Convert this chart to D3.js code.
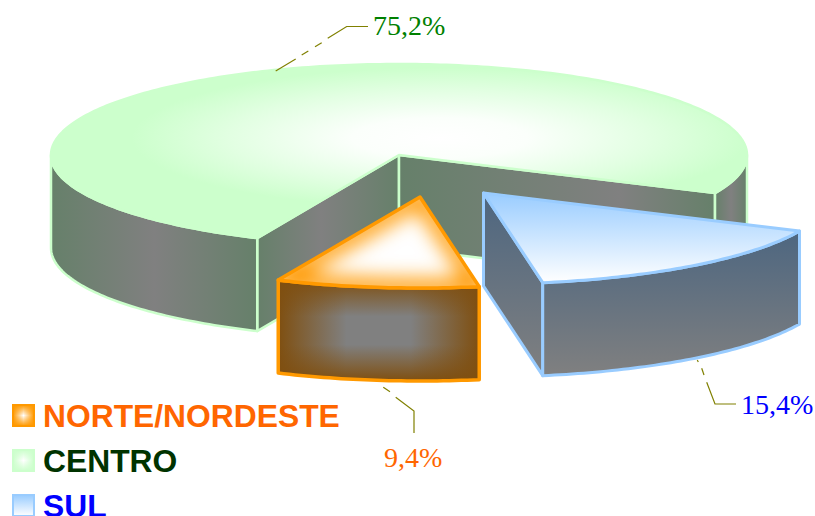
<!DOCTYPE html>
<html>
<head>
<meta charset="utf-8">
<script src="https://cdn.jsdelivr.net/npm/d3@7/dist/d3.min.js"></script>
<style>
html,body{margin:0;padding:0;background:#fff;overflow:hidden}
svg{display:block}
</style>
</head>
<body>
<svg id="chart" width="815" height="516"></svg>
<script>
// Regional shares, in legend order
const categories = ["NORTE/NORDESTE", "CENTRO", "SUL"];
const shares = [9.4, 75.2, 15.4];
const shareLabels = ["9,4%", "75,2%", "15,4%"];
const labelColors = ["#ff6600", "#008000", "#0000ff"];
const legendColors = ["#ff6600", "#003300", "#0000ff"];

const cx = 399, cy = 155, rx = 348, ry = 91, depth = 93;
const explode = [[21, 42], [0, 0], [84.5, 38]];
const edgeColors = ["#ff9900", "#ccffcc", "#99ccff"];
const edgeWidths = [3.5, 2.5, 3];

const svg = d3.select("#chart");
const defs = svg.append("defs");

// Oblique pie: d3.pie supplies the sweep, the projection squashes it into an ellipse
const arcs = d3.pie().sort(null).value(d => d)
  .startAngle((80.2 + 90) * Math.PI / 180)
  .endAngle((80.2 + 90 + 360) * Math.PI / 180)(shares);

const px = d3.scaleLinear().domain([-1, 1]).range([cx - rx, cx + rx]);
const py = d3.scaleLinear().domain([-1, 1]).range([cy - ry, cy + ry]);
const toScreen = a => a - Math.PI / 2;
const DEG = Math.PI / 180;

function rimPoints(a0, a1) {
  const n = Math.max(2, Math.ceil(Math.abs(a1 - a0) / DEG));
  return d3.range(n + 1).map(i => {
    const a = toScreen(a0 + (a1 - a0) * i / n);
    return [px(Math.cos(a)), py(Math.sin(a))];
  });
}
const line = d3.line();
const centre = [px(0), py(0)];
const shift = (pts, dx, dy) => pts.map(p => [p[0] + dx, p[1] + dy]);

function linearGrad(id, x1, y1, x2, y2, stops) {
  const g = defs.append("linearGradient").attr("id", id)
    .attr("gradientUnits", "userSpaceOnUse")
    .attr("x1", x1).attr("y1", y1).attr("x2", x2).attr("y2", y2);
  stops.forEach(s => g.append("stop").attr("offset", s[0]).attr("stop-color", s[1]).attr("stop-opacity", s[2] === undefined ? 1 : s[2]));
}
function bandGrad(id, x1, x2, mid = 0.5) {
  linearGrad(id, x1, 0, x2, 0, [[0, "#66806a"], [mid, "#808080"], [1, "#66806a"]]);
}

// Centro: top disc with a pale core
const topGrad = defs.append("radialGradient").attr("id", "centroTop")
  .attr("gradientUnits", "userSpaceOnUse")
  .attr("cx", 0).attr("cy", 0).attr("r", 1)
  .attr("gradientTransform", "translate(440,138) scale(350,80)");
[[0, "#ffffff"], [0.25, "#fbfffb"], [0.6, "#e2ffe2"], [0.88, "#ccffcc"], [1, "#ccffcc"]]
  .forEach(s => topGrad.append("stop").attr("offset", s[0]).attr("stop-color", s[1]));

function drawFace(g, pts, fill, stroke, width) {
  g.append("path").attr("d", line(pts) + "Z").attr("fill", fill)
    .attr("stroke", stroke).attr("stroke-width", width).attr("stroke-linejoin", "round");
}
function sideOf(pts) {
  return pts.concat(shift(pts, 0, depth).reverse());
}

// --- Centro ---
{
  const a = arcs[1], g = svg.append("g");
  const s = edgeColors[1], w = edgeWidths[1];
  const rim = rimPoints(a.startAngle, a.endAngle);
  const first = rim[0], last = rim[rim.length - 1];

  bandGrad("wallA", first[0], centre[0], 0.45);
  bandGrad("wallB", centre[0], last[0], 0.7);
  bandGrad("outerL", cx - rx, first[0]);
  bandGrad("outerR", last[0], cx + rx);

  drawFace(g, sideOf([first, centre]), "url(#wallA)", s, w);
  drawFace(g, sideOf([centre, last]), "url(#wallB)", s, w);
  drawFace(g, sideOf(rimPoints(a.startAngle, 270 * DEG)), "url(#outerL)", s, w);
  drawFace(g, sideOf(rimPoints(450 * DEG, a.endAngle)), "url(#outerR)", s, w);
  drawFace(g, rim.concat([centre]), "url(#centroTop)", s, w);
}

// --- Sul ---
{
  const a = arcs[2], g = svg.append("g");
  const [dx, dy] = explode[2];
  const s = edgeColors[2], w = edgeWidths[2];
  const rim = shift(rimPoints(a.startAngle, a.endAngle), dx, dy);
  const apex = [centre[0] + dx, centre[1] + dy];
  const near = rim[rim.length - 1];

  linearGrad("sulWall", 0, apex[1], 0, near[1] + depth, [[0, "#4d6680"], [1, "#808080"]]);
  linearGrad("sulFront", 0, rim[0][1], 0, near[1] + depth, [[0, "#4d6680"], [1, "#808080"]]);
  linearGrad("sulTop", 0, apex[1], 0, near[1], [[0, "#99ccff"], [1, "#ffffff"]]);

  drawFace(g, sideOf([apex, near]), "url(#sulWall)", s, w);
  drawFace(g, sideOf(rim), "url(#sulFront)", s, w);
  drawFace(g, rim.concat([apex]), "url(#sulTop)", s, w);
}

// --- Norte/Nordeste ---
{
  const a = arcs[0], g = svg.append("g");
  const [dx, dy] = explode[0];
  const s = edgeColors[0], w = edgeWidths[0];
  const rim = shift(rimPoints(a.startAngle, a.endAngle), dx, dy);
  const apex = [centre[0] + dx, centre[1] + dy];
  const xs = d3.extent(rim, p => p[0]);
  const ys = d3.extent(rim, p => p[1]);
  const side = sideOf(rim);

  // Framed shading on the front: grey core darkening to brown on all four sides
  const brown = "#7f4f10";
  linearGrad("norteH", xs[0], 0, xs[1], 0, [[0, brown, 1], [0.34, brown, 0], [0.66, brown, 0], [1, brown, 1]]);
  linearGrad("norteV", 0, ys[0], 0, ys[1] + depth, [[0, brown, 1], [0.36, brown, 0], [0.64, brown, 0], [1, brown, 1]]);
  g.append("path").attr("d", line(side) + "Z").attr("fill", "#808080");
  g.append("path").attr("d", line(side) + "Z").attr("fill", "url(#norteH)");
  g.append("path").attr("d", line(side) + "Z").attr("fill", "url(#norteV)");
  g.append("path").attr("d", line(side) + "Z").attr("fill", "none")
    .attr("stroke", s).attr("stroke-width", w).attr("stroke-linejoin", "round");

  // Top: white core fading out to the orange outline
  const clip = defs.append("clipPath").attr("id", "norteClip");
  const topD = line(rim.concat([apex])) + "Z";
  clip.append("path").attr("d", topD);
  const blur = defs.append("filter").attr("id", "norteGlow")
    .attr("x", "-30%").attr("y", "-30%").attr("width", "160%").attr("height", "160%");
  blur.append("feGaussianBlur").attr("stdDeviation", 10);
  g.append("path").attr("d", topD).attr("fill", "#ffffff");
  g.append("g").attr("clip-path", "url(#norteClip)")
    .append("path").attr("d", topD).attr("fill", "none")
    .attr("stroke", s).attr("stroke-width", 18).attr("stroke-linejoin", "round")
    .attr("filter", "url(#norteGlow)");
  g.append("path").attr("d", topD).attr("fill", "none")
    .attr("stroke", s).attr("stroke-width", w).attr("stroke-linejoin", "round");
}

// --- Leader lines ---
const leaderRuns = [
  [[[275.7, 71], [295.7, 59]], [[301.7, 55], [308.3, 51]], [[315, 46.7], [321.7, 42.7]], [[327.7, 38.3], [346.7, 26.5], [368, 26.5]]],
  [[[383.3, 387.3], [390, 391.7]], [[395.7, 397.3], [414, 411], [414, 433]]],
  [[[697.3, 360], [698.3, 362]], [[701.7, 368.3], [704, 375]], [[706.7, 382.3], [715, 404], [736, 404]]]
];
const leaders = svg.append("g").attr("fill", "none").attr("stroke", "#808000").attr("stroke-width", 1.2);
leaderRuns.forEach(run => run.forEach(seg => leaders.append("path").attr("d", line(seg))));

// --- Value labels ---
const labelAnchors = [[384, 467], [373, 35], [741, 414]];
svg.append("g").selectAll("text").data(shareLabels).join("text")
  .attr("x", (d, i) => labelAnchors[i][0])
  .attr("y", (d, i) => labelAnchors[i][1])
  .attr("fill", (d, i) => labelColors[i])
  .attr("font-family", "'Liberation Serif', serif")
  .attr("font-size", 28)
  .text(d => d);

// --- Legend ---
const legendY = d3.scalePoint().domain(categories).range([404, 494]);

// Square swatch shading: pale middle, edge colour at the border
function swatchGrad(id, vertical, color) {
  const g = defs.append("linearGradient").attr("id", id)
    .attr("x1", 0).attr("y1", 0).attr("x2", vertical ? 0 : 1).attr("y2", vertical ? 1 : 0);
  [[0, 1], [0.5, 0], [1, 1]].forEach(s =>
    g.append("stop").attr("offset", s[0]).attr("stop-color", color).attr("stop-opacity", s[1]));
}
[0, 1].forEach(i => {
  swatchGrad(`swatchH${i}`, false, edgeColors[i]);
  swatchGrad(`swatchV${i}`, true, edgeColors[i]);
});
const lg = defs.append("linearGradient").attr("id", "legendS").attr("x1", 0).attr("y1", 0).attr("x2", 0).attr("y2", 1);
lg.append("stop").attr("offset", 0).attr("stop-color", "#99ccff");
lg.append("stop").attr("offset", 1).attr("stop-color", "#ffffff");

const legend = svg.append("g").selectAll("g").data(categories).join("g")
  .attr("transform", d => `translate(0,${legendY(d)})`);
legend.each(function (d, i) {
  const g = d3.select(this);
  const addRect = () => g.append("rect").attr("x", 13).attr("y", 1).attr("width", 21).attr("height", 21);
  if (i === 2) {
    addRect().attr("fill", "url(#legendS)");
  } else {
    addRect().attr("fill", "#ffffff");
    addRect().attr("fill", `url(#swatchH${i})`);
    addRect().attr("fill", `url(#swatchV${i})`);
  }
  addRect().attr("fill", "none").attr("stroke", edgeColors[i]).attr("stroke-width", 2);
});
legend.append("text")
  .attr("x", 43).attr("y", 22.5)
  .attr("fill", (d, i) => legendColors[i])
  .attr("font-family", "'Liberation Sans', Arial, sans-serif")
  .attr("font-weight", "bold")
  .attr("font-size", 31.8)
  .text(d => d);
</script>
</body>
</html>
